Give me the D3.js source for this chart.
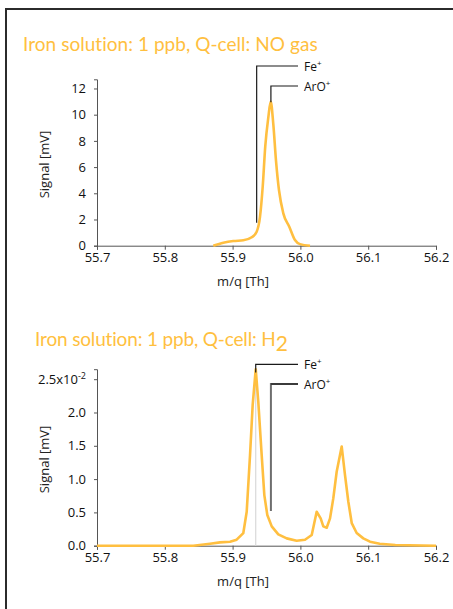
<!DOCTYPE html>
<html><head><meta charset="utf-8">
<script src="https://cdn.jsdelivr.net/npm/d3@7"></script>
<style>
html,body{margin:0;padding:0;background:#fff;}
svg{display:block;font-family:"Open Sans",sans-serif;}
</style></head>
<body>
<script>
// ---- Data ----
const xTicks = [55.7, 55.8, 55.9, 56.0, 56.1, 56.2];
const xTickLabels = ["55.7", "55.8", "55.9", "56.0", "56.1", "56.2"];

// Panel 1: NO gas
const massNO   = [55.8715, 55.8863, 55.901, 55.9158, 55.9282, 55.9355, 55.9404, 55.9444, 55.9482, 55.9527, 55.9562, 55.960, 55.964, 55.9684, 55.9748, 55.9836, 55.992, 55.9994, 56.0142];
const signalNO = [0, 0.23, 0.36, 0.41, 0.64, 1.07, 2.2, 4.5, 7.6, 9.8, 11.0, 9.3, 6.5, 4.25, 2.47, 1.45, 0.43, 0.12, 0];
const yTicksNO = [0, 2, 4, 6, 8, 10, 12];
const yTickLabelsNO = ["0", "2", "4", "6", "8", "10", "12"];

// Panel 2: H2 (units of 1e-2 mV)
const massH2   = [55.7, 55.842, 55.8667, 55.8814, 55.8962, 55.906, 55.9158, 55.9208, 55.9257, 55.9296, 55.9341, 55.9379, 55.9429, 55.9468, 55.9512, 55.9577, 55.9674, 55.9798, 55.9945, 56.0068, 56.0167, 56.024, 56.0299, 56.0338, 56.0388, 56.0437, 56.0485, 56.0535, 56.0609, 56.0658, 56.0707, 56.0757, 56.083, 56.0928, 56.1027, 56.117, 56.14, 56.2];
const signalH2 = [0, 0, 0.03, 0.05, 0.06, 0.09, 0.19, 0.51, 1.36, 2.11, 2.65, 2.16, 1.36, 0.76, 0.46, 0.29, 0.17, 0.11, 0.075, 0.09, 0.16, 0.51, 0.41, 0.29, 0.27, 0.41, 0.71, 1.11, 1.49, 1.06, 0.66, 0.34, 0.19, 0.11, 0.06, 0.03, 0.01, 0];
const yTicksH2 = [0, 0.5, 1.0, 1.5, 2.0, 2.5];
const yTickLabelsH2 = ["0.0", "0.5", "1.0", "1.5", "2.0", "2.5"];

const ionLabels = ["Fe", "ArO"];
const ionMassNO = [55.9355, 55.9565];
const ionMassH2 = [55.9341, 55.9565];

// ---- Drawing ----
const W = 453, H = 609;
const orange = "#FFBF40";
const svg = d3.select("body").append("svg").attr("width", W).attr("height", H);

// outer frame
svg.append("path").attr("d", "M6,620 V9 H460").attr("fill", "none")
  .attr("stroke", "#2b2b2b").attr("stroke-width", 2);

function panel(cfg) {
  const x = d3.scaleLinear().domain([55.7, 56.2]).range([97, 436]);
  const y = d3.scaleLinear().domain([0, cfg.yMax]).range([cfg.y0, cfg.yTop]);
  const g = svg.append("g");

  // title
  const title = g.append("text").attr("x", cfg.titleX).attr("y", cfg.titleY)
    .attr("fill", orange).attr("font-size", 19).attr("font-family", "Lato");
  title.append("tspan").text(cfg.title);
  if (cfg.sub) {
    title.append("tspan").attr("dy", 5).attr("font-size", 21).text(cfg.sub);
  }
  const main = title.select("tspan");
  const w = main.node().getComputedTextLength();
  const n = cfg.title.length;
  main.attr("letter-spacing", ((cfg.titleW - w) / n).toFixed(3));

  // x axis
  const xa = g.append("g").attr("transform", `translate(0,${cfg.y0})`)
    .call(d3.axisBottom(x).tickValues(xTicks).tickFormat((d, i) => xTickLabels[i]).tickSizeOuter(0).tickSize(4).tickPadding(3));
  xa.select(".domain").attr("stroke", "#555");
  xa.selectAll(".tick line").attr("stroke", "#555");
  xa.selectAll("text").attr("font-size", 13).attr("fill", "#111").attr("font-family", "Open Sans");

  // y axis
  const ya = g.append("g").attr("transform", `translate(97,0)`)
    .call(d3.axisLeft(y).tickValues(cfg.yTicks).tickFormat((d, i) => cfg.yLabels[i]).tickSizeOuter(0).tickSize(3).tickPadding(8));
  ya.select(".domain").attr("stroke", "#555");
  ya.selectAll(".tick line").attr("stroke", "#555");
  ya.selectAll("text").attr("font-size", 13).attr("fill", "#111").attr("font-family", "Open Sans");
  if (cfg.expo) {
    const last = ya.selectAll(".tick text").filter((d) => d === cfg.yTicks[cfg.yTicks.length - 1]);
    last.text(null);
    last.append("tspan").text(cfg.yLabels[cfg.yLabels.length - 1] + "x10");
    last.append("tspan").attr("dy", -5).attr("font-size", 9).text(cfg.expo);
  }

  // axis titles
  g.append("text").attr("transform", `translate(49,${(cfg.y0 + cfg.yTop) / 2 + 2}) rotate(-90)`)
    .attr("text-anchor", "middle").attr("font-size", 13).attr("fill", "#222").text("Signal [mV]");
  g.append("text").attr("x", 243).attr("y", cfg.y0 + 40)
    .attr("text-anchor", "middle").attr("font-size", 13).attr("fill", "#222").text("m/q [Th]");

  // guide line (panel 2)
  if (cfg.guide) {
    const gm = cfg.ionMass[0];
    g.append("line").attr("x1", x(gm)).attr("x2", x(gm))
      .attr("y1", y(0)).attr("y2", y(cfg.guide))
      .attr("stroke", "#d9d9d9").attr("stroke-width", 1.2);
  }

  // data line
  const data = cfg.mass.map((m, i) => [m, cfg.signal[i]]);
  g.append("path").datum(data)
    .attr("d", d3.line().x(d => x(d[0])).y(d => y(d[1])).curve(cfg.curve))
    .attr("fill", "none").attr("stroke", orange).attr("stroke-width", 2.6)
    .attr("stroke-linejoin", "round");

  // ion leaders
  const labelX = 298;
  ionLabels.forEach((lab, i) => {
    const mx = x(cfg.ionMass[i]);
    const ly = cfg.labelRows[i];
    const yBottom = y(cfg.leaderLow[i]);
    g.append("path").attr("d", `M${mx},${yBottom} V${ly} H${labelX}`)
      .attr("fill", "none").attr("stroke", cfg.leaderColor[i]).attr("stroke-width", cfg.leaderWidth[i]);
    if (cfg.leaderColor[i] !== "#1a1a1a") {
      g.append("path").attr("d", `M${mx},${ly} H${labelX}`)
        .attr("fill", "none").attr("stroke", "#1a1a1a").attr("stroke-width", 1.2);
    }
    const t = g.append("text").attr("x", labelX + 6).attr("y", ly + 4.5)
      .attr("font-size", 12).attr("fill", "#111");
    t.append("tspan").text(lab);
    t.append("tspan").attr("dy", -5).attr("font-size", 8).text("+");
  });
}

panel({
  title: "Iron solution: 1 ppb, Q-cell: NO gas", titleX: 23, titleY: 51, titleW: 295,
  yMax: 12.7, y0: 245.7, yTop: 79.3,
  yTicks: yTicksNO, yLabels: yTickLabelsNO,
  mass: massNO, signal: signalNO, curve: d3.curveMonotoneX,
  ionMass: ionMassNO, labelRows: [66, 86], leaderLow: [1.75, 10.95],
  leaderColor: ["#1a1a1a", "#1a1a1a"], leaderWidth: [1.2, 1.2]
});

panel({
  title: "Iron solution: 1 ppb, Q-cell: H", sub: "2", titleX: 35, titleY: 346, titleW: 241,
  yMax: 2.65, y0: 545.7, yTop: 369.2, expo: "-2",
  yTicks: yTicksH2, yLabels: yTickLabelsH2,
  mass: massH2, signal: signalH2, curve: d3.curveLinear,
  ionMass: ionMassH2, labelRows: [364.3, 384], leaderLow: [2.6, 0.52],
  leaderColor: ["#1a1a1a", "#6e6e6e"], leaderWidth: [1.2, 2],
  guide: 2.65
});
</script>
</body></html>
